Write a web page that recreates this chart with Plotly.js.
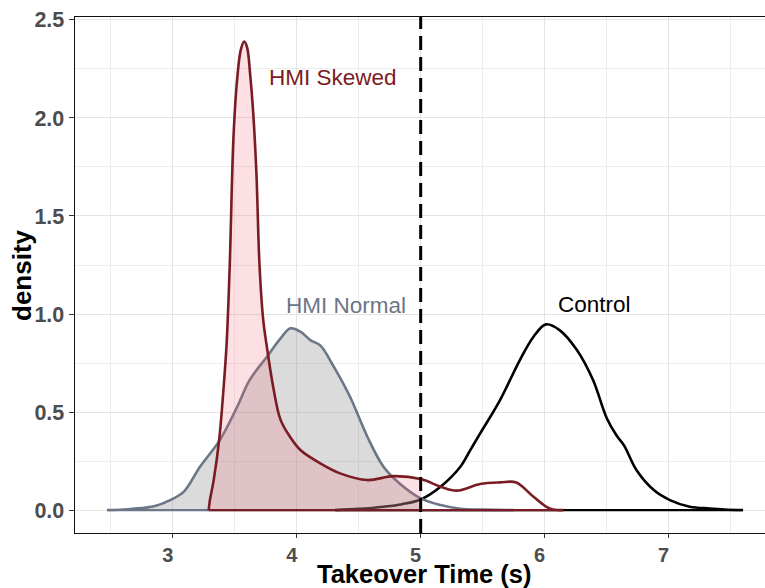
<!DOCTYPE html>
<html>
<head>
<meta charset="utf-8">
<script src="https://cdn.plot.ly/plotly-3.0.1.min.js"></script>
<style>html,body{margin:0;padding:0;background:#fff}#chart{width:765px;height:588px}</style>
</head>
<body>
<div id="chart"></div>
<script>
// ---- data ----
const threshold = 5;

const controlX = [4.31, 4.50, 4.70, 4.85, 5.00, 5.16, 5.32, 5.40, 5.48, 5.64, 5.80, 5.91, 6.01, 6.12, 6.26, 6.39, 6.50, 6.58, 6.64, 6.74, 6.88, 7.01, 7.17, 7.33, 7.45, 7.60];
const controlY = [0, 0.006, 0.017, 0.03, 0.054, 0.119, 0.221, 0.306, 0.391, 0.561, 0.765, 0.884, 0.947, 0.918, 0.816, 0.663, 0.47, 0.38, 0.33, 0.204, 0.102, 0.051, 0.017, 0.008, 0.003, 0];

const normalX = [2.47, 2.60, 2.68, 2.85, 2.98, 3.09, 3.22, 3.38, 3.52, 3.62, 3.76, 3.87, 3.95, 4.03, 4.11, 4.19, 4.30, 4.43, 4.57, 4.70, 4.83, 5.00, 5.16, 5.32, 5.50, 5.75];
const normalY = [0, 0.003, 0.007, 0.02, 0.051, 0.094, 0.221, 0.357, 0.527, 0.663, 0.782, 0.876, 0.927, 0.91, 0.867, 0.84, 0.73, 0.578, 0.374, 0.221, 0.136, 0.06, 0.026, 0.007, 0.002, 0];

const skewedX = [3.29, 3.30, 3.33, 3.375, 3.41, 3.435, 3.46, 3.49, 3.52, 3.55, 3.577, 3.60, 3.625, 3.65, 3.675, 3.70, 3.73, 3.76, 3.81, 3.87, 3.95, 4.03, 4.19, 4.35, 4.57, 4.78, 5.00, 5.16, 5.29, 5.48, 5.64, 5.77, 5.91, 6.04, 6.15];
const skewedY = [0, 0.05, 0.15, 0.36, 0.62, 0.85, 1.25, 1.9, 2.2, 2.35, 2.39, 2.36, 2.22, 2.02, 1.72, 1.25, 0.97, 0.83, 0.63, 0.46, 0.37, 0.306, 0.238, 0.187, 0.153, 0.173, 0.158, 0.119, 0.099, 0.133, 0.141, 0.141, 0.068, 0.008, 0];

const groupNames = ["Control", "HMI Normal", "HMI Skewed"];
const labelX = [6.40, 4.40, 4.29];
const labelY = [1.05, 1.046, 2.204];

const xTicks = [3, 4, 5, 6, 7];
const yTicks = [0, 0.5, 1, 1.5, 2, 2.5];

const xTitle = "Takeover Time (s)";
const yTitle = "density";

// ---- styles ----
const colControl = "#000000";
const colNormal = "#6c7687";
const colSkewed = "#7a1c24";
const font = "Liberation Sans, Arial, Helvetica, sans-serif";
const SMOOTH = 1.0;

function leftOf(xs, ys, t) {
  const ox = [], oy = [];
  for (let i = 0; i < xs.length; i++) if (xs[i] <= t) { ox.push(xs[i]); oy.push(ys[i]); }
  return [ox, oy];
}
function curve(xs, ys, color) {
  return {x: xs, y: ys, type: "scatter", mode: "lines", line: {color: color, width: 2.6, shape: "spline", smoothing: SMOOTH}, hoverinfo: "skip", showlegend: false};
}
function base(xs, color) {
  return {x: [Math.min(...xs), Math.max(...xs)], y: [0, 0], type: "scatter", mode: "lines", line: {color: color, width: 2.2}, hoverinfo: "skip", showlegend: false};
}
function area(xs, ys, fc) {
  const [ax, ay] = leftOf(xs, ys, threshold);
  return {x: ax, y: ay, type: "scatter", mode: "none", fill: "tozeroy", fillcolor: fc, line: {shape: "spline", smoothing: SMOOTH, width: 0}, hoverinfo: "skip", showlegend: false};
}

const traces = [
  base(controlX, colControl),
  curve(controlX, controlY, colControl),
  area(normalX, normalY, "rgba(140,140,140,0.31)"),
  base(normalX, colNormal),
  curve(normalX, normalY, colNormal),
  area(skewedX, skewedY, "rgba(240,100,115,0.2)"),
  base(skewedX, colSkewed),
  curve(skewedX, skewedY, colSkewed)
];

const labelColors = [colControl, colNormal, colSkewed];
const annotations = groupNames.map((n, i) => ({
  x: labelX[i], y: labelY[i], xref: "x", yref: "y", text: n, showarrow: false,
  font: {family: font, size: 22.5, color: labelColors[i]}, xanchor: "center", yanchor: "middle"
}));
annotations.push({
  x: 0.5, y: 0, xref: "paper", yref: "paper", text: xTitle, showarrow: false,
  xanchor: "center", yanchor: "bottom", xshift: 4, yshift: -56, borderpad: 0,
  font: {family: font, size: 25.5, color: "#000", weight: 700}
});
annotations.push({
  x: 0, y: 0.5, xref: "paper", yref: "paper", text: yTitle, showarrow: false, textangle: -90,
  xanchor: "center", yanchor: "middle", xshift: -53, yshift: 0,
  font: {family: font, size: 26, color: "#000", weight: 700}
});

const layout = {
  width: 765, height: 588,
  margin: {l: 75, r: 0, t: 17, b: 55},
  paper_bgcolor: "#ffffff", plot_bgcolor: "#ffffff",
  showlegend: false,
  xaxis: {
    range: [2.212, 7.777], tickvals: xTicks, ticktext: xTicks.map(String),
    showgrid: true, gridcolor: "#e4e4e4", gridwidth: 1,
    minor: {dtick: 0.5, tick0: 0, showgrid: true, gridcolor: "#ededed", gridwidth: 1},
    zeroline: false, showline: true, linecolor: "#111", linewidth: 1.4, mirror: true,
    ticks: "outside", ticklen: 4, tickwidth: 1, tickcolor: "#333",
    ticklabelshift: -5,
    tickfont: {family: font, size: 20, color: "#4d4d4d", weight: 700},
    automargin: false, fixedrange: true
  },
  yaxis: {
    range: [-0.117, 2.515], tickvals: yTicks, ticktext: yTicks.map(v => v.toFixed(1)),
    showgrid: true, gridcolor: "#e4e4e4", gridwidth: 1,
    minor: {dtick: 0.25, tick0: 0, showgrid: true, gridcolor: "#ededed", gridwidth: 1},
    zeroline: false, showline: true, linecolor: "#111", linewidth: 1.4,
    ticks: "outside", ticklen: 5, tickwidth: 1, tickcolor: "#333",
    tickfont: {family: font, size: 21.5, color: "#4d4d4d", weight: 700},
    automargin: false, fixedrange: true
  },
  shapes: [{
    type: "line", xref: "x", yref: "paper", x0: threshold, x1: threshold, y0: 0, y1: 1,
    line: {color: "#000", width: 3, dash: "14px,7px"}, layer: "above"
  }],
  annotations: annotations
};

Plotly.newPlot("chart", traces, layout, {staticPlot: true, displayModeBar: false});
</script>
</body>
</html>
